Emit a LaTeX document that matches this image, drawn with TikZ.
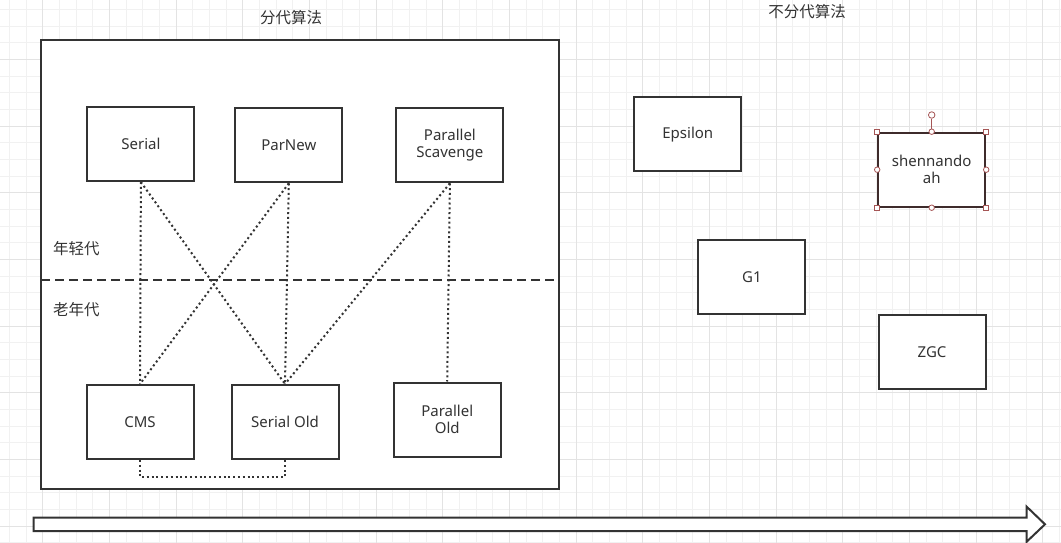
\documentclass[tikz,border=0pt]{standalone}
\usepackage{fontspec}
\setmainfont{Noto Sans}
\newfontfamily\cjk{Noto Sans CJK SC}
\usetikzlibrary{positioning}
\definecolor{edgegray}{HTML}{333333}
\definecolor{gridminor}{HTML}{F1F1F1}
\definecolor{gridmajor}{HTML}{E3E3E3}
\definecolor{selbrown}{HTML}{3E2B2B}
\definecolor{selred}{HTML}{A55555}
\tikzset{
  gcbox/.style={draw=edgegray, line width=2pt, fill=white, minimum width=107pt,
    minimum height=74pt, inner sep=0pt, align=center, text=edgegray,
    font=\fontsize{15}{17}\selectfont},
  combo/.style={draw=edgegray, line width=2pt, dash pattern=on 2pt off 2.8pt},
  cjklabel/.style={text=edgegray, inner sep=0pt, font=\cjk\fontsize{15.5}{17}\selectfont},
  hsq/.style={draw=selred, fill=white, line width=0.8pt, minimum size=5pt, inner sep=0pt},
  hcirc/.style={circle, draw=selred, fill=white, line width=0.8pt, minimum size=6.5pt, inner sep=0pt}
}
\begin{document}
\begin{tikzpicture}[x=1pt, y=-1pt]

        \useasboundingbox (0,0) rectangle (1061,543);

        \foreach \k in {0,...,63}
          \draw[gridminor, line width=0.8pt] ({9.3+16.667*\k},0) -- ({9.3+16.667*\k},543);
        \foreach \k in {0,...,32}
          \draw[gridminor, line width=0.8pt] (0,{9.3+16.667*\k}) -- (1061,{9.3+16.667*\k});
        \foreach \k in {0,...,15}
          \draw[gridmajor, line width=0.8pt] ({42.6+66.667*\k},0) -- ({42.6+66.667*\k},543);
        \foreach \k in {0,...,7}
          \draw[gridmajor, line width=0.8pt] (0,{59.3+66.667*\k}) -- (1061,{59.3+66.667*\k});

        \node (gen) [draw=edgegray, line width=2pt, fill=white, minimum width=518pt,
          minimum height=448pt, inner sep=0pt] at (300,264.5) {};

        \begin{scope}[every node/.style={cjklabel}]
          \node (titlegen)   at (291,18)   {分代算法};
          \node (titlenogen) at (807,11.5) {不分代算法};
          \node (young)      at (76.4,248.3) {年轻代};
          \node (old)        at (76.4,309.3) {老年代};
        \end{scope}

        \coordinate (splitL) at (41,280);
        \coordinate (splitR) at (557,280);
        \draw[edgegray, line width=2pt, dash pattern=on 9pt off 5pt] (splitL) -- (splitR);

        \begin{scope}[every node/.style={gcbox}]
          \node (serial)    at (140.9,144)   {Serial};
          \node (parnew)    at (288.8,145.3) {ParNew};
          \node (pscav)     at (449.9,145.3) {Parallel\\Scavenge};
          \node (cms)       at (140,422)     {CMS};
          \node (serialold) at (285,422)     {Serial Old};
          \node (parold)    at (447.2,419.5) {Parallel\\Old};
          \node (epsilon)   at (687.8,134.2) {Epsilon};
          \node (g1)        at (751.9,277.2) {G1};
          \node (zgc)       at (932,352.2)   {ZGC};
          \node (shen) [draw=selbrown] at (931.7,169.7) {shennando\\ah};
        \end{scope}

        \begin{scope}[every path/.style={combo}]
          \path (serial.south) edge (cms.north);
          \path (serial.south) edge (serialold.north);
          \path (parnew.south) edge (cms.north);
          \path (parnew.south) edge (serialold.north);
          \path (pscav.south)  edge (serialold.north);
          \path (pscav.south)  edge (parold.north);
          \draw (cms.south) -- ++(0,17.3) -| (serialold.south);
        \end{scope}

        \node (shenrot) [hcirc] at (931.7,115) {};
        \draw[selred, line width=0.8pt] (shenrot) -- (shen.north);
        \foreach \a in {north west, north east, south west, south east}
          \node[hsq] at (shen.\a) {};
        \foreach \a in {north, south, east, west}
          \node[hcirc, minimum size=5.5pt] at (shen.\a) {};

        \draw[edgegray, line width=2pt, fill=white, line join=miter]
          (33.6,517.7) -- (1026.7,517.7) -- (1026.7,506.7) -- (1045,524.3)
          -- (1026.7,541.7) -- (1026.7,531) -- (33.6,531) -- cycle;

      \end{tikzpicture}
\end{document}
